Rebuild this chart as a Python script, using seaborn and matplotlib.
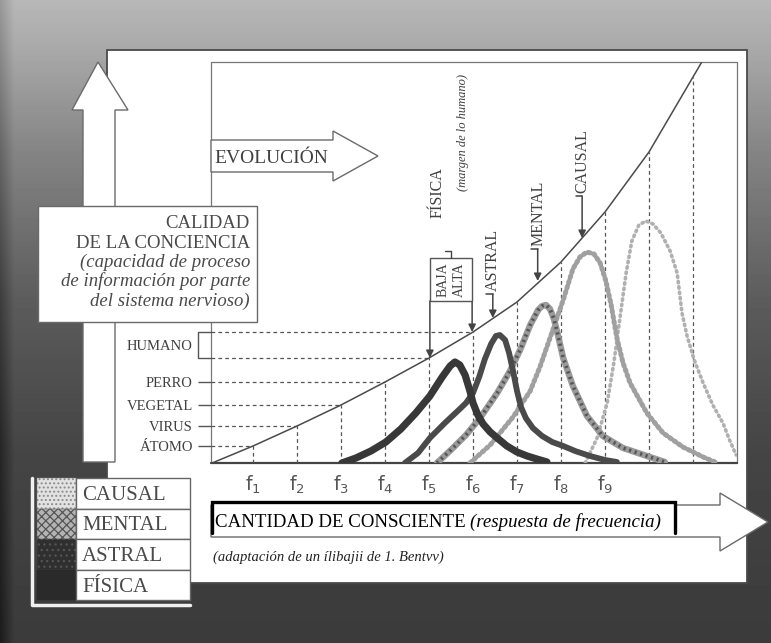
import numpy as np
import pandas as pd
import matplotlib.pyplot as plt
import seaborn as sns
from matplotlib.patches import Rectangle, Polygon

# ---- values (x in f-units, h = height above the base line) ----
curve_f = [0.07, 1, 2, 3, 4, 5, 6, 7, 8, 9, 10, 11, 11.2]
curve_h = [0, 17, 37, 58, 81, 105, 131, 161, 201, 251, 311, 386, 401]

level_names = ['ÁTOMO', 'VIRUS', 'VEGETAL', 'PERRO']
level_f = [1, 2, 3, 4]
level_h = [17, 37, 58, 81]
humano_f = [5, 6]
humano_h = [105, 131]

guide_f = [1, 2, 3, 4, 5, 6, 7, 8, 9, 10, 11]
guide_h = [17, 37, 58, 81, 105, 131, 161, 201, 251, 311, 386]

freq_ticks = [1, 2, 3, 4, 5, 6, 7, 8, 9]

fisica_f = [3.02, 3.34, 3.68, 4.02, 4.36, 4.70, 5.02, 5.30, 5.48, 5.59, 5.70, 5.82,
            5.93, 6.00, 6.11, 6.23, 6.39, 6.55, 6.77, 7.00, 7.23, 7.45, 7.68]
fisica_h = [0, 5, 12, 21, 34, 50, 67, 86, 97, 101, 98, 88, 72, 60, 48, 39, 31, 25,
            17, 11, 7, 4, 1]

astral_f = [4.45, 4.75, 5.02, 5.36, 5.70, 5.84, 6.00, 6.14, 6.27, 6.41, 6.52, 6.61,
            6.73, 6.82, 6.91, 7.00, 7.09, 7.20, 7.36, 7.57, 7.80, 8.05, 8.32, 8.66,
            9.00, 9.27]
astral_h = [0, 10, 25, 40, 54, 60, 70, 86, 104, 119, 127, 128, 123, 110, 92, 72, 56,
            45, 35, 27, 21, 17, 12, 7, 3, 1]

mental_f = [5.18, 5.52, 5.84, 6.16, 6.55, 6.84, 7.07, 7.30, 7.48, 7.57, 7.66, 7.75,
            7.84, 7.93, 8.05, 8.27, 8.59, 8.95, 9.41, 10.02, 10.36]
mental_h = [0, 14, 28, 45, 70, 92, 113, 138, 153, 157, 158, 154, 144, 128, 105, 77,
            47, 27, 15, 6, 1]

causal_f = [5.93, 6.39, 6.91, 7.30, 7.52, 7.75, 8.05, 8.27, 8.43, 8.59, 8.75, 8.89,
            9.02, 9.14, 9.27, 9.41, 9.57, 9.95, 10.32, 10.77, 11.23, 11.50]
causal_h = [0, 18, 46, 72, 96, 125, 163, 194, 206, 211, 209, 200, 182, 158, 125, 100,
            80, 50, 30, 16, 6, 1]

upper_f = [8.55, 8.82, 9.05, 9.20, 9.34, 9.48, 9.61, 9.77, 9.93, 10.09, 10.27, 10.48,
           10.64, 10.75, 10.86, 11.02, 11.23, 11.45, 11.68, 11.84, 11.98]
upper_h = [0, 25, 60, 100, 145, 190, 222, 238, 242, 239, 230, 212, 190, 150, 128, 104,
           80, 58, 40, 22, 8]

plane_names = ['ASTRAL', 'MENTAL', 'CAUSAL']
plane_f = [6.45, 7.47, 8.48]
plane_tip_h = [145, 182, 225]
fisica_tip_f = [5.02, 5.98]
fisica_tip_h = [105, 131]

legend_names = ['CAUSAL', 'MENTAL', 'ASTRAL', 'FÍSICA']

# ---- figure ----
sns.set_theme(style='white')
plt.rcParams['font.family'] = ['Liberation Serif', 'DejaVu Serif']
plt.rcParams['hatch.linewidth'] = 0.9

W, H = 771, 643
fig = plt.figure(figsize=(W / 100, H / 100), dpi=100)

# background sheet in pixel units
bg = fig.add_axes([0, 0, 1, 1])
bg.set_zorder(0)
yy = np.arange(H)[:, None]
xx = np.arange(W)[None, :]
shade = np.interp(yy, [0, 50, 150, 300, 450, H], [0.72, 0.66, 0.52, 0.36, 0.27, 0.23]) * np.ones((1, W))
shade = shade - 0.12 * np.clip(1 - xx / 14, 0, 1)
bg.imshow(shade, extent=(0, W, H, 0), cmap='gray', vmin=0, vmax=1, aspect='auto', zorder=0)
bg.set_xlim(0, W)
bg.set_ylim(H, 0)
bg.axis('off')

edge = '#6a6a6a'
txt = '#404040'


def poly(pts, z=3, fc='white', ec=edge, lw=1.0):
    bg.add_patch(Polygon(pts, closed=True, facecolor=fc, edgecolor=ec, linewidth=lw, zorder=z))


bg.add_patch(Rectangle((107, 50), 640, 533, facecolor='white', edgecolor='#4a4a4a', lw=1.3, zorder=1))
bg.plot([211, 211, 737, 737], [463, 62, 62, 463], color='#777', lw=0.9, zorder=2)
bg.plot([211, 737], [463, 463], color='#444', lw=1.6, zorder=2)

# vertical arrow (calidad)
poly([(83, 462), (83, 110), (72, 110), (98, 62), (128, 110), (115, 110), (115, 462)])
# evolucion arrow
poly([(211, 140), (333, 140), (333, 131), (378, 156), (333, 181), (333, 172), (211, 172)])
bg.text(271, 163, 'EVOLUCIÓN', fontsize=14, ha='center', va='baseline', color=txt, zorder=4)

# calidad box
bg.add_patch(Rectangle((38, 206), 219, 116, facecolor='white', edgecolor=edge, lw=1, zorder=4))
calidad = [('CALIDAD', 'normal', 228), ('DE LA CONCIENCIA', 'normal', 248),
           ('(capacidad de proceso', 'italic', 267), ('de información por parte', 'italic', 286),
           ('del sistema nervioso)', 'italic', 306)]
for s, st, yb in calidad:
    bg.text(250, yb, s, fontsize=13.5, style=st, ha='right', va='baseline', color='#4a4a4a', zorder=5)

# horizontal arrow + boxed axis title
poly([(211, 505), (720, 505), (720, 493), (768, 522), (720, 551), (720, 537), (211, 537)])
bg.add_patch(Rectangle((212, 502), 463, 31, facecolor='white', edgecolor='none', zorder=4))
bg.plot([212, 212, 675, 675], [533, 502, 502, 533], color='black', lw=2.4,
        solid_joinstyle='miter', zorder=5)
t1 = bg.text(215, 527, 'CANTIDAD DE CONSCIENTE', fontsize=13.6, va='baseline', color='black', zorder=6)
bg.annotate('(respuesta de frecuencia)', xy=(1, 0), xycoords=t1, xytext=(3, 0),
            textcoords='offset points', fontsize=13.6, style='italic', va='bottom',
            color='black', zorder=6)
bg.text(213, 561, '(adaptación de un ílibajii de 1. Bentvv)', fontsize=10.5, style='italic',
        va='baseline', color='#222', zorder=6)

# legend
swatches = [dict(facecolor='#e2e2e2', hatch='....', edgecolor='#8a8a8a'),
            dict(facecolor='#b4b4b4', hatch='xxxx', edgecolor='#555'),
            dict(facecolor='#2f2f2f', hatch='...', edgecolor='#555'),
            dict(facecolor='#2a2a2a', edgecolor='#2a2a2a')]
bg.plot([32, 32, 190], [478, 605, 605], color='#f0f0f0', lw=2.5, zorder=5)
for i, (name, sty) in enumerate(zip(legend_names, swatches)):
    y0 = 478 + i * 30.5
    bg.add_patch(Rectangle((37, y0), 39, 30.5, lw=0.3, zorder=5, **sty))
    bg.add_patch(Rectangle((76, y0), 114, 30.5, facecolor='white', edgecolor='#666', lw=1, zorder=5))
    bg.text(82, y0 + 22, name, fontsize=15, va='baseline', color='#4a4a4a', zorder=6)

# ---- data axes ----
ax = fig.add_axes([211 / W, 1 - 463 / H, 526 / W, 401 / H])
ax.set_zorder(1)
ax.patch.set_alpha(0)

dash = (0, (3, 2.5))
ax.vlines(guide_f, 0, guide_h, colors='#555', linestyles=dash, lw=0.9, zorder=1)
ax.hlines(level_h + humano_h, 0.045, level_f + humano_f, colors='#555', linestyles=dash,
          lw=0.9, zorder=1)

planes = [
    (upper_f, upper_h, dict(color='#b0b0b0', lw=2.6, linestyle=(0, (0.4, 1.1)), dash_capstyle='round')),
    (causal_f, causal_h, dict(color='#a0a0a0', lw=3.6, linestyle=(0, (0.4, 0.7)), dash_capstyle='round')),
    (mental_f, mental_h, dict(color='#9a9a9a', lw=4.6)),
    (mental_f, mental_h, dict(color='#555', lw=2.6, linestyle=(0, (0.6, 1.0)))),
    (astral_f, astral_h, dict(color='#4a4a4a', lw=4.2)),
    (fisica_f, fisica_h, dict(color='#383838', lw=5.2)),
]
for k, (fx, hy, kw) in enumerate(planes):
    sns.lineplot(data=pd.DataFrame({'f': fx, 'h': hy}), x='f', y='h', ax=ax,
                 estimator=None, sort=False, legend=False, zorder=2 + k, **kw)

sns.lineplot(data=pd.DataFrame({'f': curve_f, 'h': curve_h}), x='f', y='h', ax=ax,
             estimator=None, sort=False, color='#4a4a4a', lw=1.1, zorder=10)

# arrows on the curve
aprops = dict(arrowstyle='-|>', color='#444', lw=1.1, mutation_scale=11, shrinkA=0, shrinkB=0)
for name, fx, tip in zip(plane_names, plane_f, plane_tip_h):
    tail = tip + {'ASTRAL': 24, 'MENTAL': 32, 'CAUSAL': 42}[name]
    ax.annotate('', xy=(fx, tip), xytext=(fx, tail), arrowprops=aprops, zorder=11)
    ax.plot([fx - 0.15, fx], [tail, tail], color='#444', lw=1.1, zorder=11)
    ax.text(fx + 0.01, tail + 3, name, rotation=90, fontsize=11.5, ha='center', va='bottom',
            color=txt, zorder=11)

for fx, tip in zip(fisica_tip_f, fisica_tip_h):
    ax.annotate('', xy=(fx, tip), xytext=(fx, 162), arrowprops=aprops, zorder=11)
ax.add_patch(Rectangle((5.02, 162), 0.96, 43, facecolor='white', edgecolor='#555', lw=1, zorder=11))
ax.text(5.32, 183.5, 'BAJA', rotation=90, fontsize=10, ha='center', va='center', color=txt, zorder=12)
ax.text(5.68, 183.5, 'ALTA', rotation=90, fontsize=10, ha='center', va='center', color=txt, zorder=12)
ax.plot([5.36, 5.5, 5.5], [212, 212, 205], color='#444', lw=1, zorder=11)
ax.text(5.2, 245, 'FÍSICA', rotation=90, fontsize=11.5, ha='center', va='bottom', color=txt, zorder=12)
ax.text(5.77, 272, '(margen de lo humano)', rotation=90, fontsize=9, style='italic',
        ha='center', va='bottom', color=txt, zorder=12)

# HUMANO bracket
trans = ax.get_yaxis_transform()
ax.plot([0, -0.0247, -0.0247, 0], humano_h[:1] * 2 + humano_h[1:] * 2, transform=trans,
        clip_on=False, color='#555', lw=1)

ax.set_xlim(0.045, 12.0)
ax.set_ylim(0, 401)
ax.set(xlabel='', ylabel='')
for sp in ax.spines.values():
    sp.set_visible(False)

ax.set_xticks(freq_ticks)
ax.set_xticklabels([r'$\mathregular{f_{%d}}$' % i for i in freq_ticks], fontsize=13.5,
                   family='DejaVu Sans', color='#555')
ax.tick_params(axis='x', length=0, pad=8)

ax.set_yticks(level_h + [sum(humano_h) / 2])
ax.set_yticklabels(level_names + ['HUMANO'], fontsize=10.5, color=txt)
ax.tick_params(axis='y', left=True, length=9.5, width=1, color='#555', pad=3.5)
ax.yaxis.get_major_ticks()[-1].tick1line.set_visible(False)

fig.savefig('out.png', dpi=100)
